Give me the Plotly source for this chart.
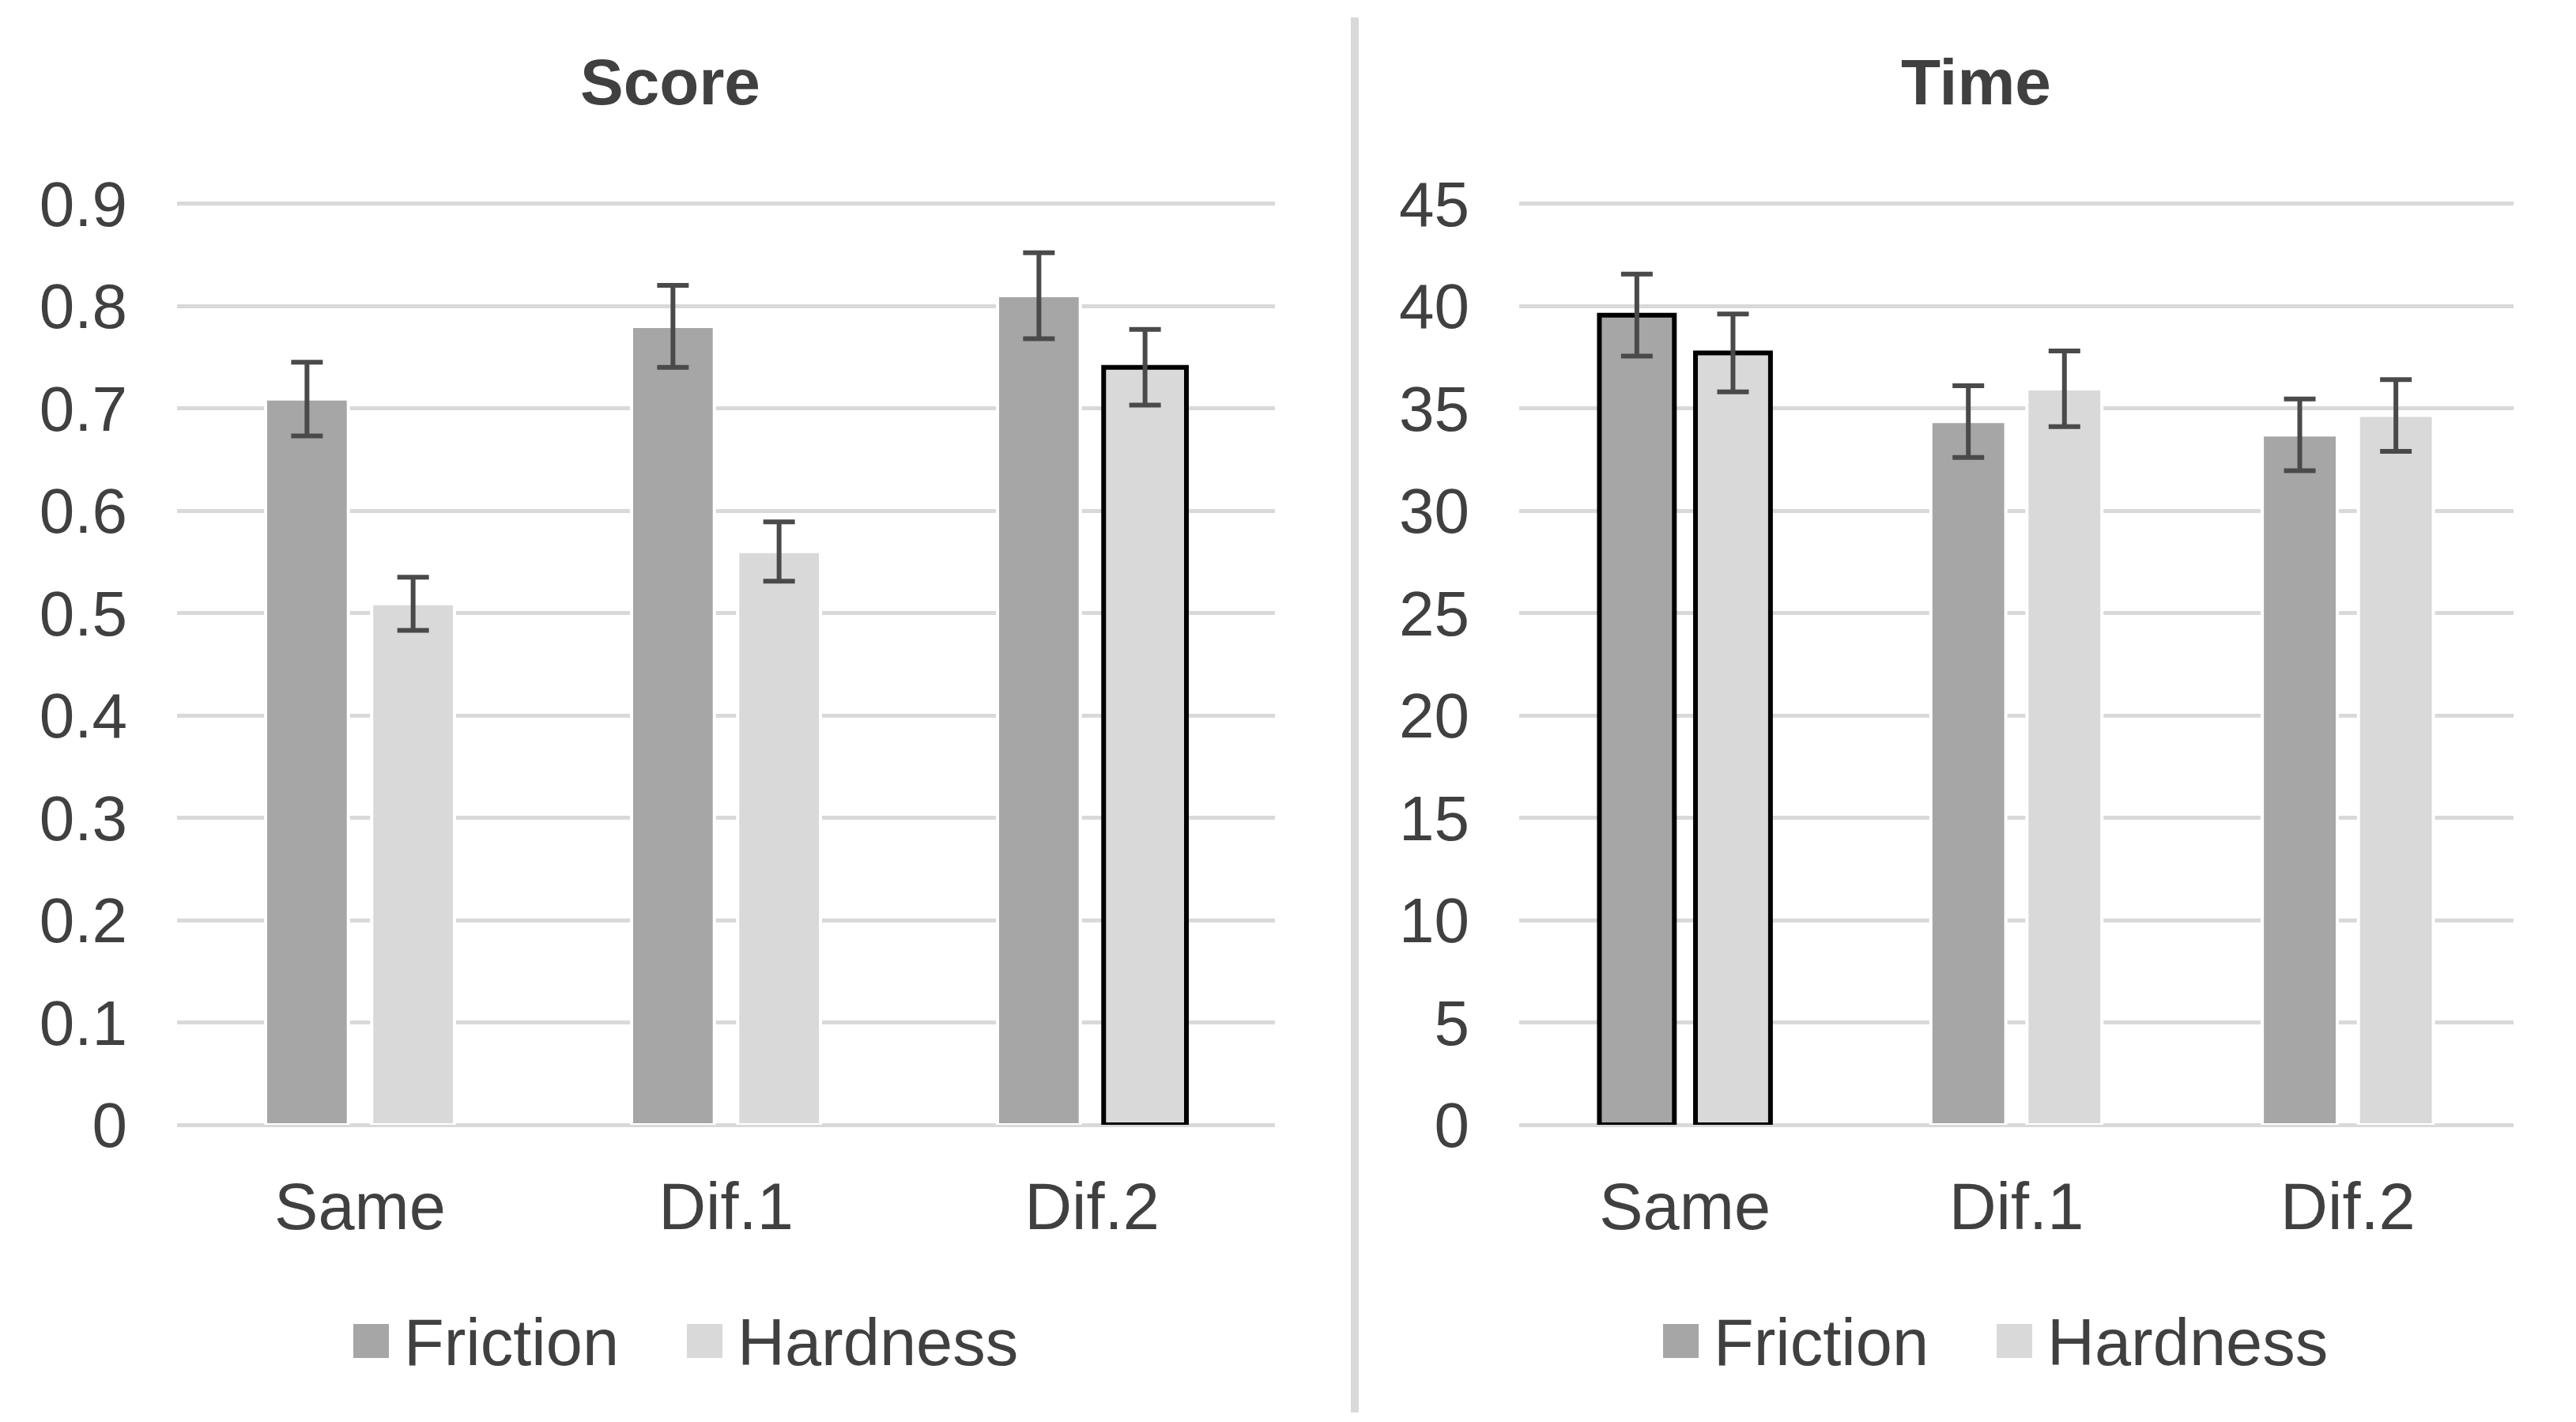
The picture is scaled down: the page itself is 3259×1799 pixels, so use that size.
import plotly.graph_objects as go

W, H = 3259, 1799
OFF = 8  # page body margin compensation

categories = ["Same", "Dif.1", "Dif.2"]
series_names = ["Friction", "Hardness"]

score_friction = [0.709, 0.780, 0.810]
score_friction_err = [0.036, 0.040, 0.042]
score_hardness = [0.509, 0.560, 0.740]
score_hardness_err = [0.026, 0.029, 0.037]

time_friction = [39.55, 34.35, 33.7]
time_friction_err = [2.0, 1.75, 1.75]
time_hardness = [37.7, 35.95, 34.65]
time_hardness_err = [1.9, 1.85, 1.75]

score_ticks = [0, 0.1, 0.2, 0.3, 0.4, 0.5, 0.6, 0.7, 0.8, 0.9]
score_ticktext = ["0", "0.1", "0.2", "0.3", "0.4", "0.5", "0.6", "0.7", "0.8", "0.9"]
time_ticks = [0, 5, 10, 15, 20, 25, 30, 35, 40, 45]

# highlighted (black outlined) bars
score_friction_hl = [False, False, False]
score_hardness_hl = [False, False, True]
time_friction_hl = [True, False, False]
time_hardness_hl = [True, False, False]

C_FRICTION = "#a6a6a6"
C_HARDNESS = "#d9d9d9"
C_GRID = "#d9d9d9"
C_TEXT = "#404040"
C_ERR = "#4a4a4a"
FONT = "Liberation Sans, Arial, sans-serif"


def px(x):
    return (x - OFF) / W


def py(y):
    return 1 - (y - OFF) / H


def outline(hl):
    return ([("black" if h else "white") for h in hl],
            [(6 if h else 4) for h in hl])


fig = go.Figure()

def add_bar(xaxis, yaxis, name, vals, errs, color, hl):
    lc, lw = outline(hl)
    fig.add_trace(go.Bar(
        x=categories, y=vals, name=name, xaxis=xaxis, yaxis=yaxis,
        marker=dict(color=color, line=dict(color=lc, width=lw)),
        error_y=dict(type="data", array=errs, visible=True,
                     color=C_ERR, thickness=6, width=20),
        showlegend=False,
    ))

add_bar("x", "y", "Friction", score_friction, score_friction_err, C_FRICTION, score_friction_hl)
add_bar("x", "y", "Hardness", score_hardness, score_hardness_err, C_HARDNESS, score_hardness_hl)
add_bar("x2", "y2", "Friction", time_friction, time_friction_err, C_FRICTION, time_friction_hl)
add_bar("x2", "y2", "Hardness", time_hardness, time_hardness_err, C_HARDNESS, time_hardness_hl)

y_zero, y_top_tick = 1423, 257.5
ppu = (y_zero - y_top_tick) / 0.9
top_px = y_zero - ppu * 0.92
ydom = [py(y_zero), py(top_px)]

axis_font = dict(family=FONT, size=80, color=C_TEXT)
cat_font = dict(family=FONT, size=83, color=C_TEXT)

common_y = dict(showgrid=True, gridcolor=C_GRID, gridwidth=5,
                zeroline=True, zerolinecolor=C_GRID, zerolinewidth=5,
                showline=False, ticks="", tickfont=axis_font, automargin=False,
                ticklabelstandoff=62, domain=ydom, fixedrange=True)
common_x = dict(showgrid=False, zeroline=False, showline=False, ticks="",
                tickfont=cat_font, ticklabelstandoff=48, fixedrange=True,
                automargin=False)

fig.update_layout(
    width=W, height=H, autosize=False,
    margin=dict(l=0, r=0, t=0, b=0, pad=0, autoexpand=False),
    paper_bgcolor="white", plot_bgcolor="white",
    barmode="group", bargap=0.42, bargroupgap=0.22,
    font=dict(family=FONT, color=C_TEXT),
    xaxis=dict(domain=[px(224), px(1613)], anchor="y", **common_x),
    yaxis=dict(anchor="x", range=[0, 0.92], tickvals=score_ticks,
               ticktext=score_ticktext, **common_y),
    xaxis2=dict(domain=[px(1922), px(3180)], anchor="y2", **common_x),
    yaxis2=dict(anchor="x2", range=[0, 46], tickvals=time_ticks, **common_y),
)

# titles
title_font = dict(family=FONT, size=82, color=C_TEXT)
fig.add_annotation(text="<b>Score</b>", x=px(848), y=py(103), xref="paper", yref="paper",
                   xanchor="center", yanchor="middle", showarrow=False, font=title_font)
fig.add_annotation(text="<b>Time</b>", x=px(2500), y=py(103), xref="paper", yref="paper",
                   xanchor="center", yanchor="middle", showarrow=False, font=title_font)

# divider
fig.add_shape(type="line", xref="paper", yref="paper",
              x0=px(1714), x1=px(1714), y0=py(22), y1=py(1787),
              line=dict(color="#d9d9d9", width=10))

# manual legends
legend_font = dict(family=FONT, size=83, color=C_TEXT)
def add_legend(x0):
    items = [(series_names[0], C_FRICTION, x0), (series_names[1], C_HARDNESS, x0 + 422)]
    for name, col, sx in items:
        fig.add_shape(type="rect", xref="paper", yref="paper",
                      x0=px(sx), x1=px(sx + 45), y0=py(1675), y1=py(1718),
                      fillcolor=col, line=dict(width=0))
        fig.add_annotation(text=name, x=px(sx + 62), y=py(1698), xref="paper", yref="paper",
                           xanchor="left", yanchor="middle", showarrow=False, font=legend_font)

add_legend(447)
add_legend(2104)

fig.write_html("out.html")
